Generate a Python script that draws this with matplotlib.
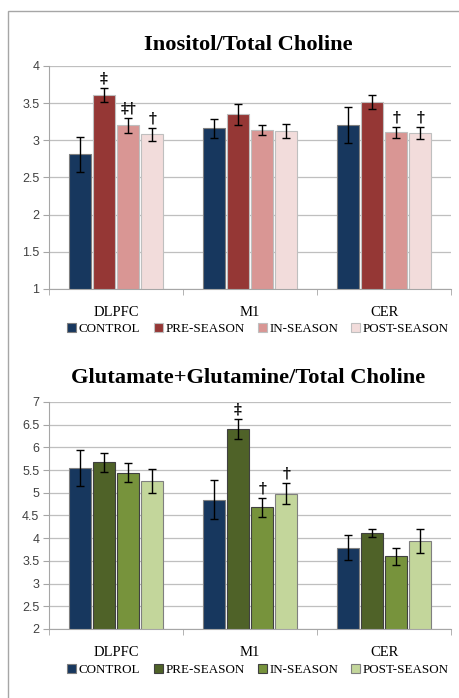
import numpy as np
import matplotlib
matplotlib.use('Agg')
import matplotlib.pyplot as plt
from matplotlib.patches import Rectangle

regions = ["DLPFC", "M1", "CER"]
groups = ["CONTROL", "PRE-SEASON", "IN-SEASON", "POST-SEASON"]

# Inositol / Total Choline
ino_vals = [[2.81, 3.16, 3.21],
            [3.61, 3.35, 3.51],
            [3.20, 3.14, 3.11],
            [3.08, 3.12, 3.10]]
ino_err = [[0.24, 0.13, 0.24],
           [0.10, 0.14, 0.095],
           [0.10, 0.07, 0.075],
           [0.09, 0.095, 0.08]]
ino_marks = [["", "", ""],
             ["\u2021", "", ""],
             ["\u2021\u2020", "", "\u2020"],
             ["\u2020", "", "\u2020"]]

# Glutamate+Glutamine / Total Choline
glx_vals = [[5.55, 4.85, 3.79],
            [5.67, 6.40, 4.12],
            [5.44, 4.68, 3.60],
            [5.26, 4.98, 3.94]]
glx_err = [[0.40, 0.43, 0.28],
           [0.21, 0.22, 0.09],
           [0.21, 0.21, 0.18],
           [0.27, 0.23, 0.27]]
glx_marks = [["", "", ""],
             ["", "\u2021", ""],
             ["", "\u2020", ""],
             ["", "\u2020", ""]]

red_colors = ["#17375E", "#953735", "#D99694", "#F2DCDB"]
green_colors = ["#17375E", "#4F6228", "#77933C", "#C3D69B"]

serif = "Liberation Serif"
sans = "Liberation Sans"

fig = plt.figure(figsize=(4.59, 6.98), dpi=100)
fig.patch.set_facecolor("white")
fig.patches.append(Rectangle((8 / 459, -0.05), 1.2, 0.05 + 1 - 11 / 698,
                             transform=fig.transFigure, fill=False,
                             edgecolor="#A6A6A6", linewidth=1.0))


def draw(ax, title, vals, errs, marks, colors, ylim, yticks, edge, title_y):
    x = np.arange(len(regions))
    w = 0.165
    step = 0.18
    for i, g in enumerate(groups):
        pos = x + (i - 1.5) * step
        ax.bar(pos, vals[i], w, color=colors[i], edgecolor=edge[i],
               linewidth=0.8, label=g, zorder=2)
        ax.errorbar(pos, vals[i], yerr=errs[i], fmt="none", ecolor="black",
                    elinewidth=1.0, capsize=3, capthick=1.0, zorder=3)
        for j in range(len(regions)):
            if marks[i][j]:
                ax.text(pos[j], vals[i][j] + errs[i][j] + 0.01 * (ylim[1] - ylim[0]),
                        marks[i][j], ha="center", va="bottom", fontsize=11,
                        fontweight="bold", family="DejaVu Serif", zorder=4)
    ax.set_xlim(-0.5, 2.5)
    ax.set_ylim(*ylim)
    ax.set_yticks(yticks)
    ax.set_yticklabels([f"{t:g}" for t in yticks], family=sans, fontsize=9,
                       color="#404040")
    ax.set_xticks(x)
    ax.set_xticklabels(regions, family=serif, fontsize=10.5)
    ax.set_xticks([-0.5, 0.5, 1.5, 2.5], minor=True)
    ax.tick_params(axis="x", which="major", length=0, pad=12)
    ax.tick_params(axis="x", which="minor", length=4, color="#A6A6A6")
    ax.tick_params(axis="y", length=4, color="#A6A6A6", pad=3)
    ax.grid(axis="y", color="#BFBFBF", linewidth=0.9, zorder=0)
    ax.set_axisbelow(True)
    for s in ["top", "right"]:
        ax.spines[s].set_visible(False)
    for s in ["left", "bottom"]:
        ax.spines[s].set_color("#A6A6A6")
    fig.text(0.54, title_y, title, ha="center", va="center", family=serif,
             fontweight="bold", fontsize=16.2)
    leg = ax.legend(loc="upper center", bbox_to_anchor=(0.52, -0.13), ncol=4,
                    frameon=False, handlelength=0.7, handleheight=0.7,
                    handletextpad=0.2, columnspacing=1.0, borderaxespad=0,
                    prop={"family": serif, "size": 9.4})
    return leg


ax1 = fig.add_axes([0.1068, 0.586, 0.876, 0.3195])
draw(ax1, "Inositol/Total Choline", ino_vals, ino_err, ino_marks, red_colors,
     (1, 4), [1, 1.5, 2, 2.5, 3, 3.5, 4],
     ["#7F7F7F", "#BFBFBF", "#BFBFBF", "#BFBFBF"], 1 - 45 / 698)

ax2 = fig.add_axes([0.1068, 0.0989, 0.876, 0.3252])
draw(ax2, "Glutamate+Glutamine/Total Choline", glx_vals, glx_err, glx_marks,
     green_colors, (2, 7), [2, 2.5, 3, 3.5, 4, 4.5, 5, 5.5, 6, 6.5, 7],
     ["#7F7F7F", "#404040", "#404040", "#7F7F7F"], 1 - 378 / 698)

fig.savefig("out.png", dpi=100)
